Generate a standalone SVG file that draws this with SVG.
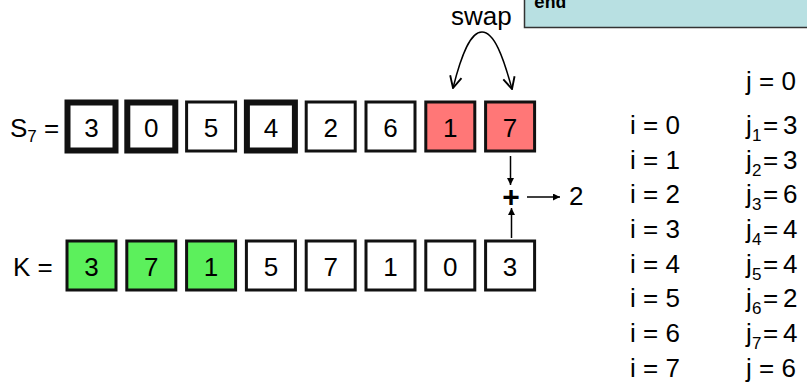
<svg xmlns="http://www.w3.org/2000/svg" width="807" height="383" viewBox="0 0 807 383">
<style>
text { font-family: "Liberation Sans", Arial, sans-serif; fill: #000; }
.t { font-size: 26px; }
.sub { font-size: 17px; }
.d { font-size: 26px; text-anchor: middle; }
.box { fill: #fff; stroke: #111; stroke-width: 3; }
.thick { stroke-width: 6; }
.red { fill: #ff7777; }
.green { fill: #5cf05c; }
.conn { fill: none; stroke: #000; stroke-width: 1.5; }
.code { font-family: "Liberation Mono", "Courier New", monospace; font-weight: bold; font-size: 18px; }
</style>
<defs>
<marker id="ah" viewBox="0 0 10 10" refX="10" refY="5" markerWidth="7" markerHeight="7" markerUnits="userSpaceOnUse" orient="auto">
<path d="M0 0 L10 5 L0 10 Z" fill="#000"/>
</marker>
<marker id="vh" viewBox="0 0 12 12" refX="11" refY="6" markerWidth="14" markerHeight="14" markerUnits="userSpaceOnUse" orient="auto-start-reverse">
<path d="M1 1 L11 6 L1 11" fill="none" stroke="#000" stroke-width="1.6"/>
</marker>
</defs>
<rect width="807" height="383" fill="#fff"/>

<g id="codebox">
<rect x="524.5" y="-5" width="300" height="32.5" fill="#b8e0e2" stroke="#333" stroke-width="1.5"/>
<text class="code" x="534" y="8">end</text>
</g>

<g id="swap-label"><text class="t" x="451" y="25">swap</text></g>

<g id="S-label"><text class="t" x="10" y="137">S<tspan class="sub" dy="5">7</tspan><tspan dy="-5"> =</tspan></text></g>
<g id="S0"><rect class="box thick" x="67.5" y="102.5" width="48" height="48"/><text class="d" x="91.5" y="137">3</text></g>
<g id="S1"><rect class="box thick" x="127.3" y="102.5" width="48" height="48"/><text class="d" x="151.3" y="137">0</text></g>
<g id="S2"><rect class="box" x="186.6" y="102" width="49" height="49"/><text class="d" x="211.1" y="137">5</text></g>
<g id="S3"><rect class="box thick" x="246.9" y="102.5" width="48" height="48"/><text class="d" x="270.9" y="137">4</text></g>
<g id="S4"><rect class="box" x="306.2" y="102" width="49" height="49"/><text class="d" x="330.7" y="137">2</text></g>
<g id="S5"><rect class="box" x="366" y="102" width="49" height="49"/><text class="d" x="390.5" y="137">6</text></g>
<g id="S6"><rect class="box red" x="425.8" y="102" width="49" height="49"/><text class="d" x="450.3" y="137">1</text></g>
<g id="S7"><rect class="box red" x="485.6" y="102" width="49" height="49"/><text class="d" x="510.1" y="137">7</text></g>

<g id="K-label"><text class="t" x="13" y="276">K =</text></g>
<g id="K0"><rect class="box green" x="67" y="241" width="49" height="49"/><text class="d" x="91.5" y="276">3</text></g>
<g id="K1"><rect class="box green" x="126.8" y="241" width="49" height="49"/><text class="d" x="151.3" y="276">7</text></g>
<g id="K2"><rect class="box green" x="186.6" y="241" width="49" height="49"/><text class="d" x="211.1" y="276">1</text></g>
<g id="K3"><rect class="box" x="246.4" y="241" width="49" height="49"/><text class="d" x="270.9" y="276">5</text></g>
<g id="K4"><rect class="box" x="306.2" y="241" width="49" height="49"/><text class="d" x="330.7" y="276">7</text></g>
<g id="K5"><rect class="box" x="366" y="241" width="49" height="49"/><text class="d" x="390.5" y="276">1</text></g>
<g id="K6"><rect class="box" x="425.8" y="241" width="49" height="49"/><text class="d" x="450.3" y="276">0</text></g>
<g id="K7"><rect class="box" x="485.6" y="241" width="49" height="49"/><text class="d" x="510.1" y="276">3</text></g>

<g id="plus"><text x="511" y="207" font-size="30" font-weight="bold" text-anchor="middle">+</text></g>
<g id="result"><text class="t" x="569" y="205">2</text></g>

<g id="connectors">
<path class="conn" d="M453 88 C461 56 470 32 482 32 C494 32 503 56 512 89" marker-start="url(#vh)" marker-end="url(#vh)"/>
<line class="conn" x1="510.5" y1="156" x2="510.5" y2="185" marker-end="url(#ah)"/>
<line class="conn" x1="511.5" y1="238" x2="511.5" y2="208" marker-end="url(#ah)"/>
<line class="conn" x1="527" y1="197" x2="560" y2="197" marker-end="url(#ah)"/>
</g>

<g id="table">
<text class="t" x="746" y="90">j = 0</text>
<text class="t" x="630" y="134">i = 0</text>
<text class="t" x="746" y="134">j<tspan class="sub" x="752" y="141">1</tspan><tspan x="763" y="134">=</tspan><tspan x="783">3</tspan></text>
<text class="t" x="630" y="169">i = 1</text>
<text class="t" x="746" y="169">j<tspan class="sub" x="752" y="176">2</tspan><tspan x="763" y="169">=</tspan><tspan x="783">3</tspan></text>
<text class="t" x="630" y="203">i = 2</text>
<text class="t" x="746" y="203">j<tspan class="sub" x="752" y="210">3</tspan><tspan x="763" y="203">=</tspan><tspan x="783">6</tspan></text>
<text class="t" x="630" y="238">i = 3</text>
<text class="t" x="746" y="238">j<tspan class="sub" x="752" y="245">4</tspan><tspan x="763" y="238">=</tspan><tspan x="783">4</tspan></text>
<text class="t" x="630" y="273">i = 4</text>
<text class="t" x="746" y="273">j<tspan class="sub" x="752" y="280">5</tspan><tspan x="763" y="273">=</tspan><tspan x="783">4</tspan></text>
<text class="t" x="630" y="307">i = 5</text>
<text class="t" x="746" y="307">j<tspan class="sub" x="752" y="314">6</tspan><tspan x="763" y="307">=</tspan><tspan x="783">2</tspan></text>
<text class="t" x="630" y="342">i = 6</text>
<text class="t" x="746" y="342">j<tspan class="sub" x="752" y="349">7</tspan><tspan x="763" y="342">=</tspan><tspan x="783">4</tspan></text>
<text class="t" x="630" y="377">i = 7</text>
<text class="t" x="746" y="377">j = 6</text>
</g>
</svg>
